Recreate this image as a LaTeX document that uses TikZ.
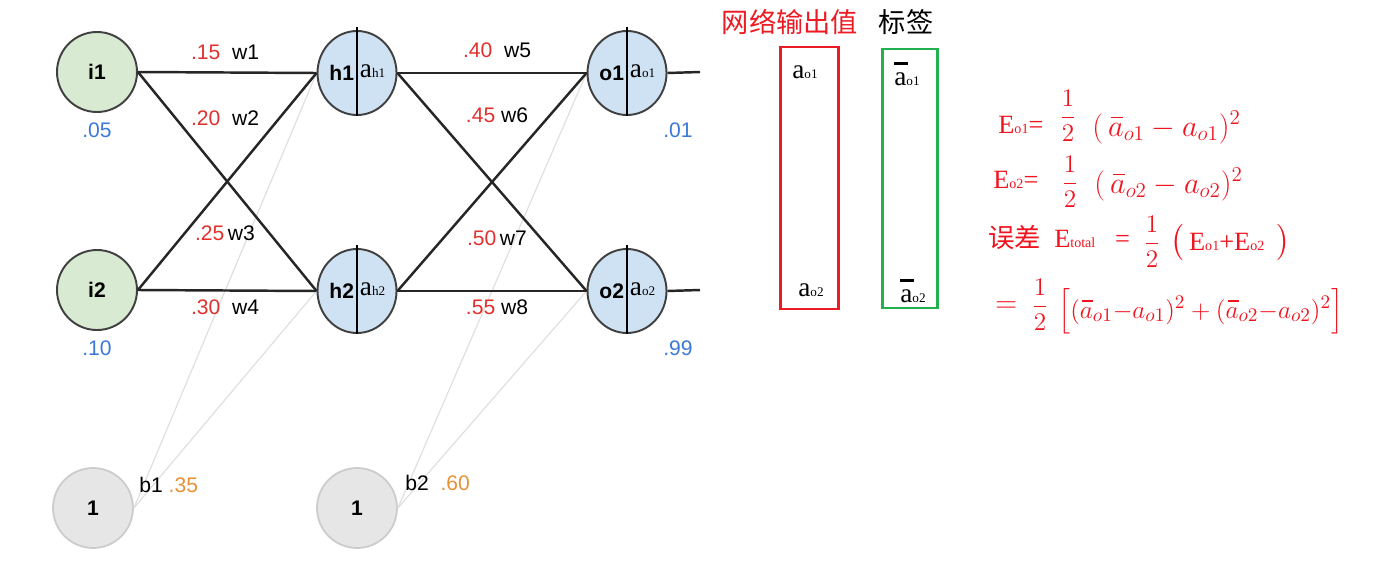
\documentclass[tikz,border=0pt]{standalone}
\usepackage{amsmath}
\usepackage{fontspec}
\setmainfont{Liberation Serif}
\setsansfont{Liberation Sans}
\newfontfamily\cjk{Noto Sans CJK SC}
\usetikzlibrary{shapes.geometric}
\definecolor{wred}{HTML}{E0312F}
\definecolor{vblue}{HTML}{3C78D8}
\definecolor{borange}{HTML}{E69138}
\definecolor{ingreen}{HTML}{D9EAD3}
\definecolor{hblue}{HTML}{CFE2F3}
\definecolor{bgray}{HTML}{E6E6E6}
\definecolor{rboxred}{HTML}{ED1C24}
\definecolor{gboxgreen}{HTML}{22B14C}
\definecolor{eqred}{HTML}{F0141E}
\newcommand{\av}[1]{{\fontsize{15.5}{16}\selectfont a}{\fontsize{7.5}{8}\selectfont #1}}
\newcommand{\abar}[1]{\rlap{\raisebox{12pt}{\rule{7.5pt}{1.4pt}}}\av{#1}}
\newcommand{\Esub}[1]{E{\fontsize{8}{8}\selectfont #1}}
\newcommand{\ba}{\mathord{\rlap{\hspace{0.08em}\raisebox{0.62em}{\rule{0.42em}{0.05em}}}a}}
\tikzset{inode/.style={draw=black!75,line width=1.1pt,circle,fill=ingreen,minimum size=1.6cm,font=\sffamily\bfseries\fontsize{12}{14}\selectfont}}
\tikzset{hnode/.style={draw=black!75,line width=1.1pt,ellipse,fill=hblue,minimum width=1.58cm,minimum height=1.68cm}}
\tikzset{bnode/.style={draw=black!20,line width=1pt,circle,fill=bgray,minimum size=1.6cm,font=\sffamily\bfseries\fontsize{12}{14}\selectfont}}
\tikzset{wline/.style={draw=black!85,line width=1.4pt}}
\tikzset{bline/.style={draw=black!12,line width=0.7pt}}
\tikzset{divline/.style={draw=black,line width=1.6pt}}
\tikzset{nname/.style={font=\sffamily\bfseries\fontsize{12}{14}\selectfont,inner sep=1.5pt}}
\tikzset{wlab/.style={font=\sffamily\fontsize{12}{14}\selectfont,inner sep=0pt}}
\tikzset{vlab/.style={font=\sffamily\fontsize{12}{14}\selectfont,text=vblue,inner sep=0pt}}
\tikzset{eq/.style={anchor=base west,text=eqred,inner sep=0pt,font=\fontsize{15}{17}\selectfont}}
\tikzset{frac/.style={text=eqred,inner sep=0pt,font=\fontsize{14}{16}\selectfont}}
\tikzset{hand/.style={anchor=base west,text=eqred,inner sep=0pt,font=\fontsize{16.5}{18}\selectfont}}

\begin{document}
\begin{tikzpicture}[x=0.2mm,y=-0.2mm]
\useasboundingbox (0,0) rectangle (1385,565);

\node[inode] (i1) at (97,72) {i1};
\node[inode] (i2) at (97,290) {i2};
\node[hnode] (h1) at (357,73) {};
\node[hnode] (h2) at (357,291) {};
\node[hnode] (o1) at (627,73) {};
\node[hnode] (o2) at (627,291) {};
\node[bnode] (b1) at (93,508) {1};
\node[bnode] (b2) at (357,508) {1};

% bias connectors
\draw[bline] (b1.east) -- (h1.west);
\draw[bline] (b1.east) -- (h2.west);
\draw[bline] (b2.east) -- (o1.west);
\draw[bline] (b2.east) -- (o2.west);

% weights
\draw[wline] (i1.east) -- (h1.west);
\draw[wline] (i1.east) -- (h2.west);
\draw[wline] (i2.east) -- (h1.west);
\draw[wline] (i2.east) -- (h2.west);
\draw[wline] (h1.east) -- (o1.west);
\draw[wline] (h1.east) -- (o2.west);
\draw[wline] (h2.east) -- (o1.west);
\draw[wline] (h2.east) -- (o2.west);
\coordinate (out1) at (700,72);
\coordinate (out2) at (700,290);
\draw[wline] (o1.east) -- (out1);
\draw[wline] (o2.east) -- (out2);

\foreach \n in {h1,h2,o1,o2} {
  \draw[divline] ([yshift=2pt]\n.north) -- (\n.south);
  \node[nname,anchor=east] (\n l) at (\n.center) {\n};
  \node[anchor=west,inner sep=1.5pt] (\n r) at ([yshift=1pt]\n.center) {\av{\n}};
}

\node[wlab] (w1) at (225,52) {\textcolor{wred}{.15}\ \ w1};
\node[wlab] (w2) at (225,118) {\textcolor{wred}{.20}\ \ w2};
\node[wlab] (w3) at (225,233) {\textcolor{wred}{.25}\,w3};
\node[wlab] (w4) at (225,307) {\textcolor{wred}{.30}\ \ w4};
\node[wlab] (w5) at (497,50) {\textcolor{wred}{.40}\ \ w5};
\node[wlab] (w6) at (497,115) {\textcolor{wred}{.45}\ w6};
\node[wlab] (w7) at (497,238) {\textcolor{wred}{.50}\,w7};
\node[wlab] (w8) at (497,307) {\textcolor{wred}{.55}\ w8};

\node[vlab] (x1) at (97,130) {.05};
\node[vlab] (x2) at (97,348) {.10};
\node[vlab] (y1) at (678,130) {.01};
\node[vlab] (y2) at (678,348) {.99};

\node[wlab,anchor=west] (b1w) at (139,485) {b1\ \textcolor{borange}{.35}};
\node[wlab,anchor=west] (b2w) at (405,483) {b2\ \ \textcolor{borange}{.60}};

% outputs and targets
\node[text=rboxred,font=\cjk\fontsize{15.5}{17}\selectfont,inner sep=0pt] (otitle) at (790,22) {网络输出值};
\node[font=\cjk\fontsize{15.5}{17}\selectfont,inner sep=0pt] (ttitle) at (906,22) {标签};
\draw[rboxred,line width=1.7pt] (780,47) rectangle (838,309);
\draw[gboxgreen,line width=1.7pt] (882,49) rectangle (937,308);
\node (ao1) at (805,72) {\av{o1}};
\node (ao2) at (811,290) {\av{o2}};
\node (to1) at (907,74) {\abar{o1}};
\node (to2) at (913,291) {\abar{o2}};

% loss
\node[eq] (eo1) at (998,133) {\Esub{o1}=};
\node[frac] (fo1) at (1068,116) {$\dfrac{1}{2}$};
\node[hand] (po1) at (1092,136) {$(\,\ba_{o1}-a_{o1})^2$};

\node[eq] (eo2) at (993,188) {\Esub{o2}=};
\node[frac] (fo2) at (1070,182) {$\dfrac{1}{2}$};
\node[hand] (po2) at (1094,193) {$(\,\ba_{o2}-a_{o2})^2$};

\node[eq] (etot) at (988,247) {{\cjk 误差}\ \ \Esub{total}\ \ \ =};
\node[frac] (ftot) at (1152,242) {$\dfrac{1}{2}$};
\node[hand] (ptot) at (1170,250) {$\bigl($\,{\fontsize{15}{17}\selectfont\Esub{o1}+\Esub{o2}}\,\ $\bigr)$};

\node[hand] (esum) at (995,312) {$=$};
\node[frac] (fsum) at (1040,305) {$\dfrac{1}{2}$};
\node[hand,font=\fontsize{15}{17}\selectfont] (psum) at (1058,318) {$\Bigl[(\ba_{o1}{-}a_{o1})^2+(\ba_{o2}{-}a_{o2})^2\Bigr]$};

\end{tikzpicture}
\end{document}
